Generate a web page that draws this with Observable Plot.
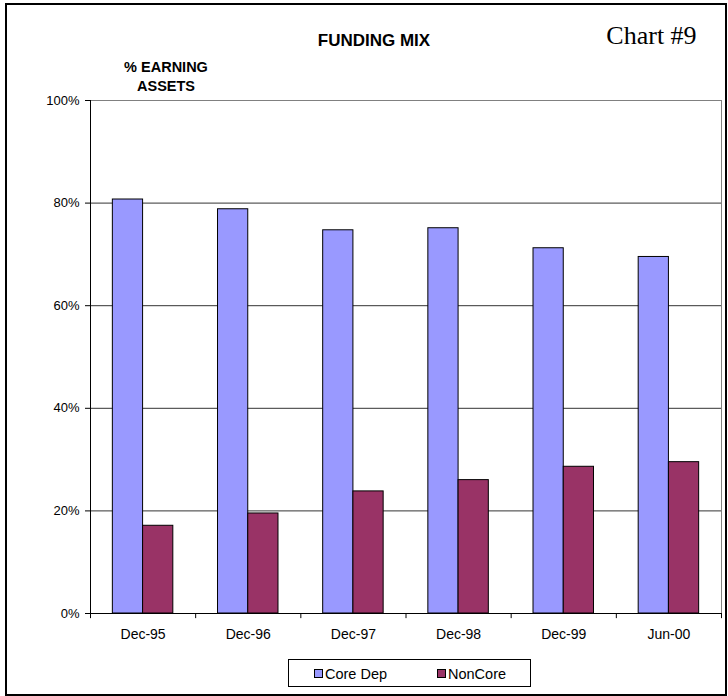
<!DOCTYPE html>
<html>
<head>
<meta charset="utf-8">
<script src="https://cdn.jsdelivr.net/npm/d3@7"></script>
<script src="https://cdn.jsdelivr.net/npm/@observablehq/plot@0.6"></script>
<style>
  html, body { margin: 0; padding: 0; background: #fff; }
  #page { position: relative; width: 728px; height: 696px; overflow: hidden; font-family: Arial, "Liberation Sans", sans-serif; }
  #border { position: absolute; left: 5px; top: 3px; width: 718px; height: 689px; border: 2px solid #000; }
  #chart { position: absolute; left: 0; top: 0; }
  .txt { position: absolute; white-space: nowrap; line-height: 1; color: #000; }
  .bold { font-weight: bold; }
  #title { font-size: 17px; }
  #chartno { font-family: "Liberation Serif", "Times New Roman", serif; font-size: 26px; }
  #ylab1, #ylab2 { font-size: 14.5px; }
  #legend { position: absolute; left: 288px; top: 659px; width: 243px; height: 28px; box-sizing: border-box; border: 1px solid #000; background: #fff; }
  .sw { position: absolute; width: 9px; height: 9px; box-sizing: border-box; border: 1px solid #000; }
  .lt { position: absolute; font-size: 14.5px; line-height: 1; white-space: nowrap; }
</style>
</head>
<body>
<div id="page">
  <div id="border"></div>
  <div id="chart"></div>
  <div class="txt bold" id="title">FUNDING MIX</div>
  <div class="txt" id="chartno">Chart #9</div>
  <div class="txt bold" id="ylab1">% EARNING</div>
  <div class="txt bold" id="ylab2">ASSETS</div>
  <div id="legend"></div>
</div>
<script>
// Funding mix as a share of earning assets, by period
const periods = ["Dec-95", "Dec-96", "Dec-97", "Dec-98", "Dec-99", "Jun-00"];
const coreDep = [80.7, 78.8, 74.7, 75.1, 71.2, 69.5];
const nonCore = [17.1, 19.5, 23.8, 26.0, 28.6, 29.5];
const seriesNames = ["Core Dep", "NonCore"];
const seriesColors = ["#9999FF", "#993366"];
const yTicks = [0, 20, 40, 60, 80, 100];

const W = 728, H = 643;
const mL = 90, mR = 7, mT = 100, mB = 30;
const bw = (W - mL - mR) / periods.length;

const rows = periods.map((p, i) => ({period: p, core: coreDep[i], noncore: nonCore[i]}));
const firstPeriod = periods[0];
const lastPeriod = periods[periods.length - 1];

// bar placement inside each category band
const barOff = 0.2125 * bw, barW = 0.2875 * bw;

const chart = Plot.plot({
  width: W,
  height: H,
  marginLeft: mL,
  marginRight: mR,
  marginTop: mT,
  marginBottom: mB,
  style: {fontFamily: "Arial, 'Liberation Sans', sans-serif", fontSize: "13px", color: "#000", background: "transparent"},
  x: {type: "band", domain: periods, padding: 0, round: false, label: null},
  y: {domain: [0, 100], label: null},
  marks: [
    // plot area outline: grey top and right edges
    Plot.ruleY([100], {stroke: "#808080"}),
    Plot.ruleX([lastPeriod], {dx: bw / 2, y1: 0, y2: 100, stroke: "#808080"}),
    // horizontal gridlines
    Plot.ruleY(yTicks.filter(t => t > 0 && t < 100), {stroke: "#333", strokeWidth: 1}),
    // bars
    Plot.barY(rows, {x: "period", y: "core", fill: seriesColors[0], stroke: "#000", strokeWidth: 1,
      insetLeft: barOff, insetRight: bw - barOff - barW}),
    Plot.barY(rows, {x: "period", y: "noncore", fill: seriesColors[1], stroke: "#000", strokeWidth: 1,
      insetLeft: barOff + barW, insetRight: barOff}),
    // axis lines
    Plot.ruleY([0], {stroke: "#000"}),
    Plot.ruleX([firstPeriod], {dx: -bw / 2, y1: 0, y2: 100, stroke: "#000"}),
    // category boundary ticks below the axis
    Plot.ruleX(periods, {dx: -bw / 2, y1: 0, y2: -1.0, stroke: "#000"}),
    Plot.ruleX([lastPeriod], {dx: bw / 2, y1: 0, y2: -1.0, stroke: "#000"}),
    Plot.axisX({tickSize: 0, tickPadding: 16, label: null, fontSize: 14}),
    Plot.axisY({ticks: yTicks, tickFormat: d => d + "%", tickSize: 5, tickPadding: 6, label: null, stroke: "#000", fontSize: 13})
  ]
});
document.getElementById("chart").appendChild(chart);

// legend: swatch and label for each series
const legend = document.getElementById("legend");
const legendSwatchX = [25, 148];
seriesNames.forEach((name, i) => {
  const sw = document.createElement("div");
  sw.className = "sw";
  sw.style.background = seriesColors[i];
  sw.style.left = legendSwatchX[i] + "px";
  sw.style.top = "9px";
  const label = document.createElement("div");
  label.className = "lt";
  label.textContent = name;
  label.style.left = (legendSwatchX[i] + 11) + "px";
  label.style.top = "7px";
  legend.appendChild(sw);
  legend.appendChild(label);
});

// place a line-height:1 text block by its horizontal centre and its baseline
function place(id, cx, baseline, ascentRatio) {
  const el = document.getElementById(id);
  const r = el.getBoundingClientRect();
  const fs = parseFloat(getComputedStyle(el).fontSize);
  el.style.left = (cx - r.width / 2) + "px";
  el.style.top = (baseline - ascentRatio * fs) + "px";
}
const SANS = 0.8465, SERIF = 0.8375;
place("title", 374, 46.5, SANS);
place("chartno", 651.5, 44.5, SERIF);
place("ylab1", 166, 72.5, SANS);
place("ylab2", 166, 91, SANS);
</script>
</body>
</html>
